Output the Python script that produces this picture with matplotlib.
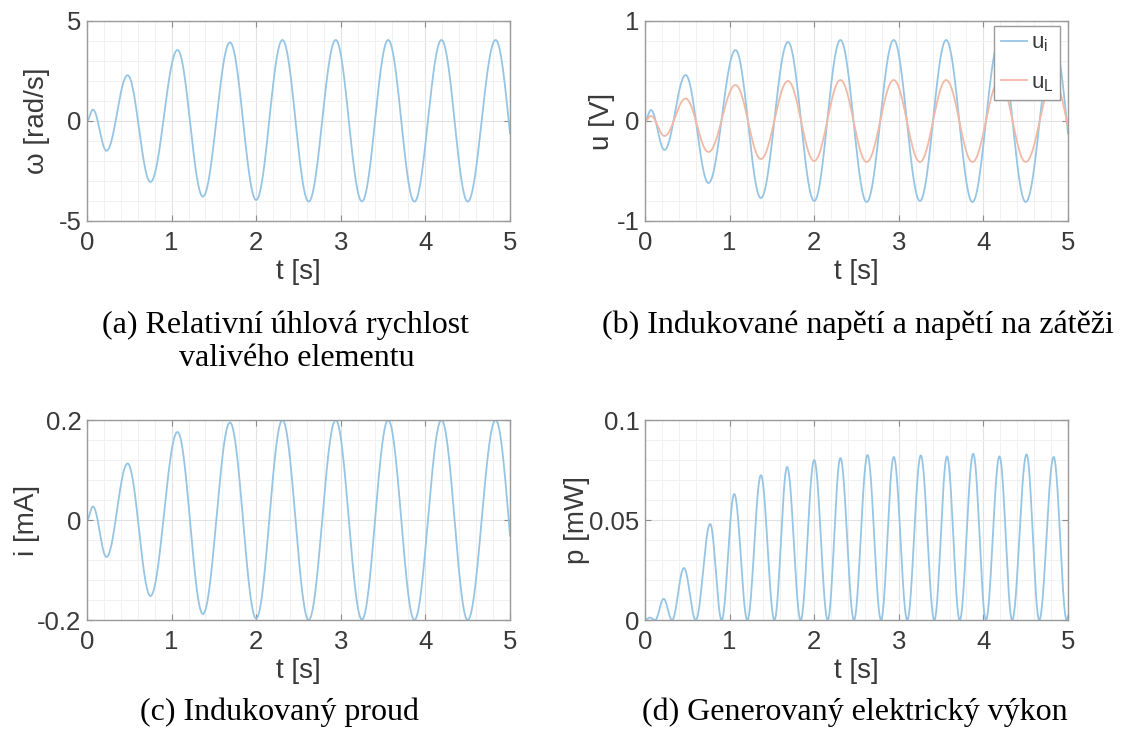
import numpy as np
import matplotlib.pyplot as plt

plt.rcParams['font.family'] = ['Liberation Sans', 'DejaVu Sans']
plt.rcParams['axes.unicode_minus'] = False

# turning points of the oscillation [s], shared by omega, u_i, u_L and i
t_ext = [0.0, 0.07, 0.23, 0.48, 0.75, 1.07, 1.37, 1.69, 2.00, 2.31, 2.62,
         2.94, 3.25, 3.56, 3.87, 4.19, 4.50, 4.83, 5.14]
omega = [0, 0.57, -1.49, 2.29, -3.05, 3.55, -3.78, 3.93, -3.95, 4.05, -4.03,
         4.05, -4.02, 4.05, -4.03, 4.05, -4.03, 4.05, -4.03]
u_i = [0, 0.11, -0.29, 0.46, -0.62, 0.71, -0.77, 0.79, -0.80, 0.81, -0.81,
       0.81, -0.80, 0.81, -0.81, 0.81, -0.81, 0.81, -0.81]
u_L = [0, 0.05, -0.15, 0.225, -0.31, 0.36, -0.38, 0.40, -0.40, 0.41, -0.41,
       0.41, -0.41, 0.41, -0.41, 0.41, -0.41, 0.41, -0.41]
i_mA = [0, 0.027, -0.074, 0.113, -0.152, 0.176, -0.188, 0.195, -0.197, 0.2, -0.2,
        0.2, -0.199, 0.2, -0.2, 0.2, -0.2, 0.2, -0.2]

# power: zeros and peaks alternate
t_p = [0, 0.055, 0.12, 0.22, 0.32, 0.46, 0.60, 0.77, 0.906, 1.055, 1.21, 1.37,
       1.53, 1.68, 1.84, 2.0, 2.16, 2.31, 2.47, 2.63, 2.79, 2.94, 3.10, 3.26,
       3.42, 3.57, 3.72, 3.88, 4.03, 4.19, 4.34, 4.51, 4.66, 4.83, 4.985, 5.14]
p_mW = [0, 0.0012, 0, 0.0106, 0, 0.026, 0, 0.048, 0, 0.063, 0, 0.0724,
        0, 0.0765, 0, 0.080, 0, 0.081, 0, 0.0825, 0, 0.0815, 0, 0.0823,
        0, 0.0818, 0, 0.0831, 0, 0.0818, 0, 0.0828, 0, 0.0815, 0, 0.08]

blue = '#96c5e5'
orange = '#f1b9a6'
txtcol = '#3a3a3a'


def smooth(tk, vk, n=120):
    # half-cosine segments between consecutive turning points
    tt, vv = [], []
    for k in range(len(tk) - 1):
        s = np.linspace(0, 1, n, endpoint=False)
        tt.append(tk[k] + (tk[k + 1] - tk[k]) * s)
        vv.append(vk[k] + (vk[k + 1] - vk[k]) * (1 - np.cos(np.pi * s)) / 2)
    tt.append([tk[-1]])
    vv.append([vk[-1]])
    return np.concatenate(tt), np.concatenate(vv)


def setup(ax, ylim, yticks, ylabels, yminor, ylabel, labx):
    ax.set_xlim(0, 5)
    ax.set_ylim(ylim)
    ax.set_xticks(range(6))
    ax.set_xticklabels([str(k) for k in range(6)])
    ax.set_yticks(yticks)
    ax.set_yticklabels(ylabels)
    ax.set_xticks(np.arange(0, 5.01, 0.2), minor=True)
    ax.set_yticks(yminor, minor=True)
    ax.grid(which='major', color='#e2e2e2', lw=0.8)
    ax.grid(which='minor', color='#f1f1f1', lw=0.7)
    ax.set_axisbelow(True)
    ax.tick_params(which='major', direction='in', top=True, right=True,
                   length=4, color='#8c8c8c', labelsize=18.5, labelcolor=txtcol)
    ax.tick_params(axis='x', pad=7)
    ax.tick_params(axis='y', pad=4)
    ax.tick_params(which='minor', length=0)
    for s in ax.spines.values():
        s.set_color('#9a9a9a')
        s.set_linewidth(1.0)
    ax.set_xlabel('t [s]', fontsize=20, color=txtcol)
    ax.xaxis.set_label_coords(0.5, -0.19)
    ax.set_ylabel(ylabel, fontsize=20, color=txtcol)
    ax.yaxis.set_label_coords(labx, 0.5)


fig = plt.figure(figsize=(11.25, 7.36), dpi=100)
W, H = 1125, 736
pw, ph = 423, 200


def add_axes(x0, ytop):
    return fig.add_axes([x0 / W, 1 - (ytop + ph) / H, pw / W, ph / H])


ax1 = add_axes(87, 21)
ax2 = add_axes(645, 21)
ax3 = add_axes(87, 420)
ax4 = add_axes(645, 420)

t, v = smooth(t_ext, omega)
ax1.plot(t, v, color=blue, lw=1.3)
setup(ax1, (-5, 5), [-5, 0, 5], ['-5', '0', '5'], np.arange(-5, 5.1, 1),
      'ω [rad/s]', -0.087)

t, v = smooth(t_ext, u_i)
ax2.plot(t, v, color=blue, lw=1.3, label='u$_\\mathregular{i}$')
t, v = smooth(t_ext, u_L)
ax2.plot(t, v, color=orange, lw=1.3, label='u$_\\mathregular{L}$')
setup(ax2, (-1, 1), [-1, 0, 1], ['-1', '0', '1'], np.arange(-1, 1.01, 0.2),
      'u [V]', -0.071)
leg = ax2.legend(loc='upper right', bbox_to_anchor=(0.981, 0.975), borderaxespad=0,
                 fontsize=16, handlelength=1.2, handletextpad=0.15, labelspacing=0.8,
                 borderpad=0.3, fancybox=False, framealpha=1, edgecolor='#9a9a9a')
for txt in leg.get_texts():
    txt.set_color(txtcol)

t, v = smooth(t_ext, i_mA)
ax3.plot(t, v, color=blue, lw=1.3)
setup(ax3, (-0.2, 0.2), [-0.2, 0, 0.2], ['-0.2', '0', '0.2'],
      np.arange(-0.2, 0.201, 0.04), 'i [mA]', -0.111)

t, v = smooth(t_p, p_mW)
ax4.plot(t, v, color=blue, lw=1.3)
setup(ax4, (0, 0.1), [0, 0.05, 0.1], ['0', '0.05', '0.1'],
      np.arange(0, 0.101, 0.01), 'p [mW]', -0.13)

cap = dict(family=['Liberation Serif', 'DejaVu Serif'], fontsize=23, color='black')
fig.text(102 / W, 1 - 325 / H, '(a) Relativní úhlová rychlost', ha='left', va='center', **cap)
fig.text(297 / W, 1 - 358 / H, 'valivého elementu', ha='center', va='center', **cap)
fig.text(858 / W, 1 - 325 / H, '(b) Indukované napětí a napětí na zátěži', ha='center', va='center', **cap)
fig.text(280 / W, 1 - 712 / H, '(c) Indukovaný proud', ha='center', va='center', **cap)
fig.text(855 / W, 1 - 712 / H, '(d) Generovaný elektrický výkon', ha='center', va='center', **cap)

fig.savefig('out.png', dpi=100)
